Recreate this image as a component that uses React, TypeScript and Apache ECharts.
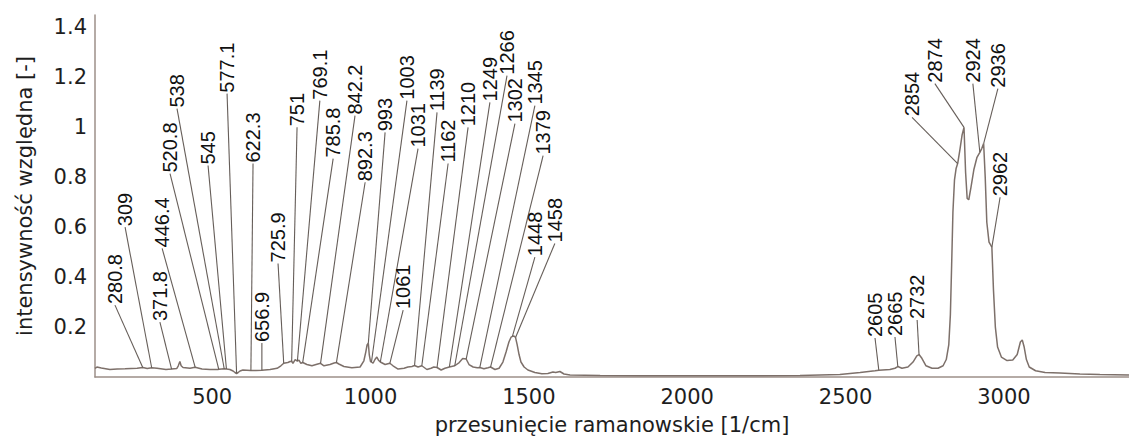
import React, { useEffect, useRef } from "react";
import * as echarts from "echarts";

// Raman spectrum, [raman shift 1/cm, relative intensity]
const fingerprintRegion: [number, number][] = [
  [130, 0.035], [136, 0.04], [150, 0.036], [177, 0.03], [200, 0.032], [225, 0.033], [263, 0.035],
  [281, 0.038], [295, 0.034], [309, 0.037], [326, 0.035], [354, 0.03], [372, 0.032], [388, 0.034],
  [393, 0.045], [398, 0.062], [402, 0.045], [408, 0.038], [430, 0.035], [446, 0.039], [468, 0.032],
  [493, 0.03], [518, 0.03], [521, 0.031], [538, 0.033], [545, 0.032], [556, 0.03], [566, 0.024],
  [572, 0.018], [577, 0.014], [582, 0.018], [588, 0.024], [597, 0.028], [622, 0.026], [638, 0.026],
  [657, 0.027], [683, 0.03], [705, 0.035], [717, 0.045], [726, 0.055], [739, 0.058], [746, 0.062],
  [751, 0.063], [755, 0.055], [762, 0.07], [769, 0.064], [774, 0.068], [780, 0.055], [786, 0.058],
  [799, 0.05], [815, 0.045], [828, 0.05], [842, 0.055], [853, 0.045], [872, 0.05], [885, 0.056],
  [892, 0.058], [900, 0.052], [916, 0.042], [941, 0.037], [967, 0.04], [979, 0.065], [985, 0.1],
  [989, 0.128], [993, 0.135], [996, 0.09], [1000, 0.062], [1003, 0.06], [1008, 0.055], [1014, 0.07],
  [1020, 0.08], [1026, 0.066], [1031, 0.06], [1046, 0.05], [1061, 0.055], [1071, 0.045], [1087, 0.032],
  [1106, 0.035], [1118, 0.04], [1131, 0.042], [1139, 0.046], [1150, 0.04], [1162, 0.045], [1178, 0.03],
  [1191, 0.035], [1200, 0.04], [1210, 0.038], [1223, 0.028], [1235, 0.035], [1249, 0.04], [1266, 0.045],
  [1280, 0.058], [1291, 0.074], [1302, 0.072], [1311, 0.05], [1324, 0.04], [1337, 0.037], [1345, 0.038],
  [1358, 0.033], [1371, 0.037], [1379, 0.04], [1393, 0.03], [1406, 0.035], [1418, 0.06], [1428, 0.1],
  [1437, 0.14], [1444, 0.16], [1448, 0.163], [1453, 0.164], [1458, 0.158], [1463, 0.13], [1469, 0.09],
  [1475, 0.06], [1485, 0.04], [1497, 0.028], [1519, 0.018], [1541, 0.013], [1560, 0.014], [1576, 0.02],
  [1585, 0.018], [1598, 0.022], [1611, 0.012], [1630, 0.008],
];

const silentRegion: [number, number][] = [
  [1725, 0.006], [1850, 0.005], [2040, 0.005], [2200, 0.005], [2356, 0.006], [2482, 0.01],
  [2546, 0.018], [2593, 0.025],
];

const chStretchRegion: [number, number][] = [
  [2605, 0.027], [2640, 0.03], [2656, 0.035], [2665, 0.042], [2678, 0.035], [2697, 0.04], [2713, 0.06],
  [2725, 0.085], [2732, 0.09], [2741, 0.075], [2754, 0.045], [2773, 0.035], [2792, 0.035], [2808, 0.045],
  [2818, 0.07], [2826, 0.13], [2831, 0.25], [2835, 0.45], [2839, 0.66], [2844, 0.79], [2849, 0.835],
  [2854, 0.855], [2861, 0.91], [2868, 0.97], [2874, 1.0], [2879, 0.82], [2884, 0.715], [2889, 0.71],
  [2896, 0.76], [2905, 0.83], [2915, 0.88], [2924, 0.9], [2930, 0.915], [2936, 0.935], [2941, 0.8],
  [2946, 0.62], [2953, 0.54], [2962, 0.52], [2967, 0.35], [2973, 0.2], [2980, 0.12], [2992, 0.08],
  [3010, 0.066], [3028, 0.068], [3042, 0.09], [3052, 0.14], [3058, 0.148], [3064, 0.12], [3071, 0.07],
  [3080, 0.04], [3100, 0.025], [3130, 0.018], [3177, 0.016], [3240, 0.012], [3303, 0.01], [3395, 0.008],
];

// Assigned bands (1/cm)
const peakShifts: number[] = [
  280.8, 309, 371.8, 446.4, 520.8, 538, 545, 577.1, 622.3, 656.9, 725.9, 751, 769.1, 785.8, 842.2,
  892.3, 993, 1003, 1031, 1061, 1139, 1162, 1210, 1249, 1266, 1302, 1345, 1379, 1448, 1458,
  2605, 2665, 2732, 2854, 2874, 2924, 2936, 2962,
];

// Foot of each rotated band label, in [raman shift, intensity]
const labelAnchors: [number, number][] = [
  [193, 0.288], [225, 0.6], [335, 0.22], [342, 0.515], [367, 0.815], [389, 1.075], [487, 0.847],
  [547, 1.135], [629, 0.855], [657, 0.136], [708, 0.455], [768, 1.0], [840, 1.107], [882, 0.875],
  [951, 1.047], [983, 0.78], [1046, 0.98], [1115, 1.107], [1150, 0.915], [1103, 0.268], [1210, 1.06],
  [1245, 0.855], [1308, 1.0], [1377, 1.1], [1431, 1.207], [1456, 1.015], [1519, 1.087], [1545, 0.887],
  [1519, 0.48], [1582, 0.535], [2593, 0.156], [2656, 0.16], [2726, 0.228], [2710, 1.04], [2782, 1.175],
  [2902, 1.175], [2981, 1.155], [2988, 0.72],
];

const xTickValues = [500, 1000, 1500, 2000, 2500, 3000];
const yTickValues = [0.2, 0.4, 0.6, 0.8, 1, 1.2, 1.4];

const spectrum: [number, number][] = [...fingerprintRegion, ...silentRegion, ...chStretchRegion];

function intensityAt(shift: number): number {
  for (let i = 1; i < spectrum.length; i++) {
    const [x0, y0] = spectrum[i - 1];
    const [x1, y1] = spectrum[i];
    if (shift >= x0 && shift <= x1) {
      return y0 + ((y1 - y0) * (shift - x0)) / (x1 - x0);
    }
  }
  return spectrum[spectrum.length - 1][1];
}

const AXIS_FONT = '"DejaVu Sans", Verdana, sans-serif';
const LABEL_FONT = '"Liberation Sans", Arial, sans-serif';

export default function App() {
  const ref = useRef<HTMLDivElement>(null);

  useEffect(() => {
    if (!ref.current) return;
    const chart = echarts.init(ref.current, null, { renderer: "svg" });

    chart.setOption({
      animation: false,
      backgroundColor: "#ffffff",
      grid: { left: 95, right: 0, top: 15, bottom: 59, containLabel: false, outerBoundsMode: "none" },
      xAxis: {
        type: "value",
        min: 130,
        max: 3395,
        name: "przesunięcie ramanowskie [1/cm]",
        nameLocation: "middle",
        nameGap: 37,
        nameTextStyle: { fontFamily: AXIS_FONT, fontSize: 21, color: "#1e1e1e" },
        axisLine: { show: true, lineStyle: { color: "#9c8f88", width: 1.5 } },
        axisTick: { show: false },
        splitLine: { show: false },
        axisLabel: {
          margin: 9,
          fontFamily: AXIS_FONT,
          fontSize: 21,
          color: "#1e1e1e",
          formatter: (v: number) => (xTickValues.includes(Math.round(v)) ? String(Math.round(v)) : ""),
        },
      },
      yAxis: {
        type: "value",
        min: 0,
        max: 1.45,
        interval: 0.2,
        name: "intensywność względna [-]",
        nameLocation: "middle",
        nameGap: 60,
        nameTextStyle: { fontFamily: AXIS_FONT, fontSize: 21, color: "#1e1e1e" },
        axisLine: { show: true, lineStyle: { color: "#9c8f88", width: 1.5 } },
        axisTick: { show: false },
        splitLine: { show: false },
        axisLabel: {
          margin: 8,
          fontFamily: AXIS_FONT,
          fontSize: 21,
          color: "#1e1e1e",
          formatter: (v: number) => {
            const t = yTickValues.find((y) => Math.abs(y - v) < 1e-6);
            return t === undefined ? "" : String(t);
          },
        },
      },
      series: [
        {
          type: "line",
          data: spectrum,
          showSymbol: false,
          symbol: "none",
          lineStyle: { color: "#7d706a", width: 1.5 },
          z: 2,
        },
        {
          type: "custom",
          data: peakShifts.map((s) => [s, intensityAt(s)]),
          encode: { x: 0, y: 1 },
          clip: false,
          z: 3,
          renderItem: (params: any, api: any) => {
            const i = params.dataIndex;
            const shift = peakShifts[i];
            const peak = api.coord([shift, intensityAt(shift)]);
            const foot = api.coord(labelAnchors[i]);
            return {
              type: "group",
              children: [
                {
                  type: "line",
                  shape: { x1: foot[0], y1: foot[1], x2: peak[0], y2: peak[1] },
                  style: { stroke: "#665e59", lineWidth: 1.1 },
                },
                {
                  type: "text",
                  x: foot[0],
                  y: foot[1] - 1,
                  rotation: Math.PI / 2,
                  style: {
                    text: String(shift),
                    fill: "#111111",
                    font: `20px ${LABEL_FONT}`,
                    align: "left",
                    verticalAlign: "middle",
                    textAlign: "left",
                    textVerticalAlign: "middle",
                  },
                },
              ],
            };
          },
        },
      ],
    });

    return () => chart.dispose();
  }, []);

  return (
    <div
      ref={ref}
      style={{ position: "fixed", left: 0, top: 0, width: 1129, height: 436, background: "#ffffff" }}
    />
  );
}
